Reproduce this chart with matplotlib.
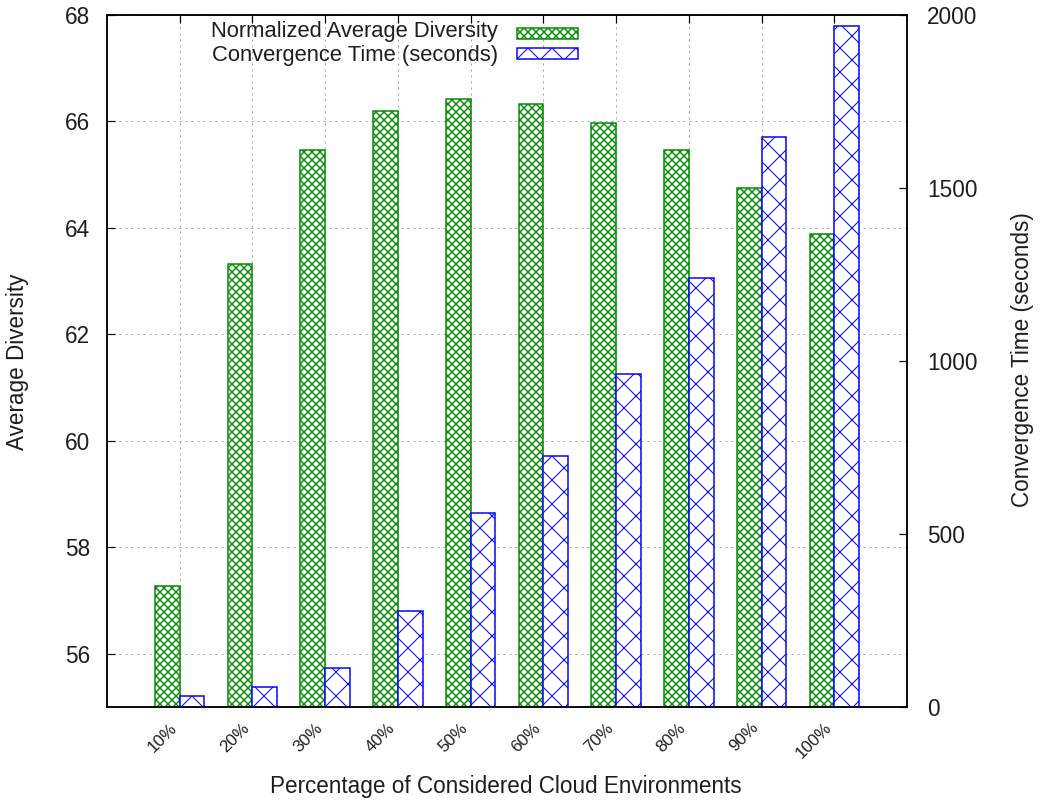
import numpy as np
import matplotlib
matplotlib.use("Agg")
import matplotlib.pyplot as plt
from matplotlib.patches import Rectangle
from matplotlib.transforms import ScaledTranslation

plt.rcParams['font.family'] = ['Liberation Sans', 'DejaVu Sans']

# Data
categories = ['10%', '20%', '30%', '40%', '50%', '60%', '70%', '80%', '90%', '100%']
avg_diversity = [57.28, 63.32, 65.47, 66.19, 66.42, 66.32, 65.97, 65.46, 64.75, 63.89]
conv_time = [33, 58, 112, 278, 560, 726, 962, 1239, 1648, 1968]

div_label = 'Normalized Average Diversity'
time_label = 'Convergence Time (seconds)'

GREEN = '#008a00'
BLUE = '#0000ff'
TEXT = '#1e1e1e'
FS = 22.5

W, H, DPI = 1043, 803, 72
fig = plt.figure(figsize=(W / DPI, H / DPI), dpi=DPI)
ax = fig.add_axes([107 / W, 1 - 707 / H, 800 / W, 692 / H])
ax2 = ax.twinx()

xpos = np.arange(1, len(categories) + 1)
bw = 0.34

plt.rcParams['hatch.linewidth'] = 1.4
ax.bar(xpos - bw, avg_diversity, width=bw, align='edge', facecolor='white',
       edgecolor=GREEN, hatch='xxx', linewidth=1.5, zorder=2)
plt.rcParams['hatch.linewidth'] = 1.0
ax2.bar(xpos, conv_time, width=bw, align='edge', facecolor='white',
        edgecolor=BLUE, hatch='x', linewidth=1.5, zorder=2)

ax.set_xlim(0, 11)
ax.set_ylim(55, 68)
ax2.set_ylim(0, 2000)

ax.set_yticks(np.arange(56, 69, 2))
ax2.set_yticks(np.arange(0, 2001, 500))
ax.set_xticks(xpos)
ax.set_xticklabels(categories, rotation=45, ha='right', va='top', fontsize=17, color=TEXT)
shift = ScaledTranslation(4 / DPI, 0, fig.dpi_scale_trans)
for lbl in ax.get_xticklabels():
    lbl.set_transform(lbl.get_transform() + shift)

ax.set_axisbelow(True)
ax.grid(True, color='#a0a0a0', linestyle=(0, (2, 4)), linewidth=1.0)

ax.tick_params(axis='x', direction='in', length=8, width=1.2, top=True, bottom=False, pad=13)
ax.tick_params(axis='y', direction='in', length=8, width=1.2, pad=17, labelsize=FS, labelcolor=TEXT)
ax2.tick_params(axis='y', direction='in', length=8, width=1.2, pad=20, labelsize=FS, labelcolor=TEXT)

for a in (ax, ax2):
    for s in a.spines.values():
        s.set_linewidth(1.5)
        s.set_color('black')

fig.text(506 / W, 1 - 786 / H, 'Percentage of Considered Cloud Environments',
         ha='center', va='center', fontsize=FS, color=TEXT)
fig.text(18 / W, 1 - 362 / H, 'Average Diversity', rotation=90,
         ha='center', va='center', fontsize=FS, color=TEXT)
fig.text(1023 / W, 1 - 360 / H, time_label, rotation=90,
         ha='center', va='center', fontsize=FS, color=TEXT)

# Key: right-justified labels followed by a pattern sample
key_entries = [(div_label, GREEN, 'xxx', 1.4), (time_label, BLUE, 'x', 1.0)]
for i, (label, color, hatch, hlw) in enumerate(key_entries):
    y_text = 31 + 25 * i
    y_box = 33.5 + 20 * i
    fig.text(498 / W, 1 - y_text / H, label, ha='right', va='center',
             fontsize=22, color=TEXT)
    plt.rcParams['hatch.linewidth'] = hlw
    fig.add_artist(Rectangle((517 / W, 1 - (y_box + 5.5) / H), 61 / W, 11 / H,
                             transform=fig.transFigure, facecolor='white',
                             edgecolor=color, hatch=hatch, linewidth=1.5))

fig.savefig('out.png', dpi=DPI)
